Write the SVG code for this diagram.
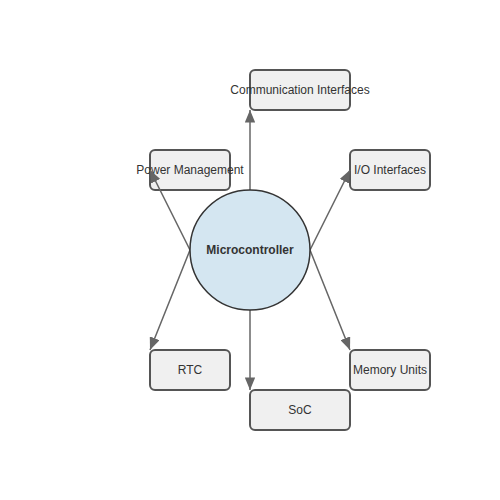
<svg xmlns="http://www.w3.org/2000/svg" width="500" height="500" viewBox="0 0 500 500">
<style>
.box{fill:#f0f0f0;stroke:#555;stroke-width:2}
.lbl{font-family:"Liberation Sans",Arial,sans-serif;font-size:12px;fill:#333;text-anchor:middle;dominant-baseline:central}
.edge{stroke:#666;stroke-width:1.5;fill:none;marker-end:url(#arr)}
</style>
<defs>
<marker id="arr" viewBox="0 0 12 10" refX="12" refY="5" markerWidth="8.4" markerHeight="7" markerUnits="strokeWidth" orient="auto">
<path d="M0,0 L12,5 L0,10 z" fill="#666"/>
</marker>
</defs>
<rect width="500" height="500" fill="#fff"/>
<g id="comm"><rect class="box" x="250" y="70" width="100" height="40" rx="5"/><text class="lbl" x="300" y="90">Communication Interfaces</text></g>
<g id="power"><rect class="box" x="150" y="150" width="80" height="40" rx="5"/><text class="lbl" x="190" y="170">Power Management</text></g>
<g id="io"><rect class="box" x="350" y="150" width="80" height="40" rx="5"/><text class="lbl" x="390" y="170">I/O Interfaces</text></g>
<g id="rtc"><rect class="box" x="150" y="350" width="80" height="40" rx="5"/><text class="lbl" x="190" y="370">RTC</text></g>
<g id="memory"><rect class="box" x="350" y="350" width="80" height="40" rx="5"/><text class="lbl" x="390" y="370">Memory Units</text></g>
<g id="soc"><rect class="box" x="250" y="390" width="100" height="40" rx="5"/><text class="lbl" x="300" y="410">SoC</text></g>
<g id="connectors">
<line class="edge" x1="250" y1="190" x2="250" y2="110"/>
<line class="edge" x1="190" y1="250" x2="150" y2="170"/>
<line class="edge" x1="310" y1="250" x2="350" y2="170"/>
<line class="edge" x1="190" y1="250" x2="150" y2="350"/>
<line class="edge" x1="310" y1="250" x2="350" y2="350"/>
<line class="edge" x1="250" y1="310" x2="250" y2="390"/>
</g>
<g id="mcu"><circle cx="250" cy="250" r="60" fill="#d4e6f1" stroke="#333" stroke-width="1.5"/><text class="lbl" x="250" y="250" font-weight="bold">Microcontroller</text></g>
</svg>
